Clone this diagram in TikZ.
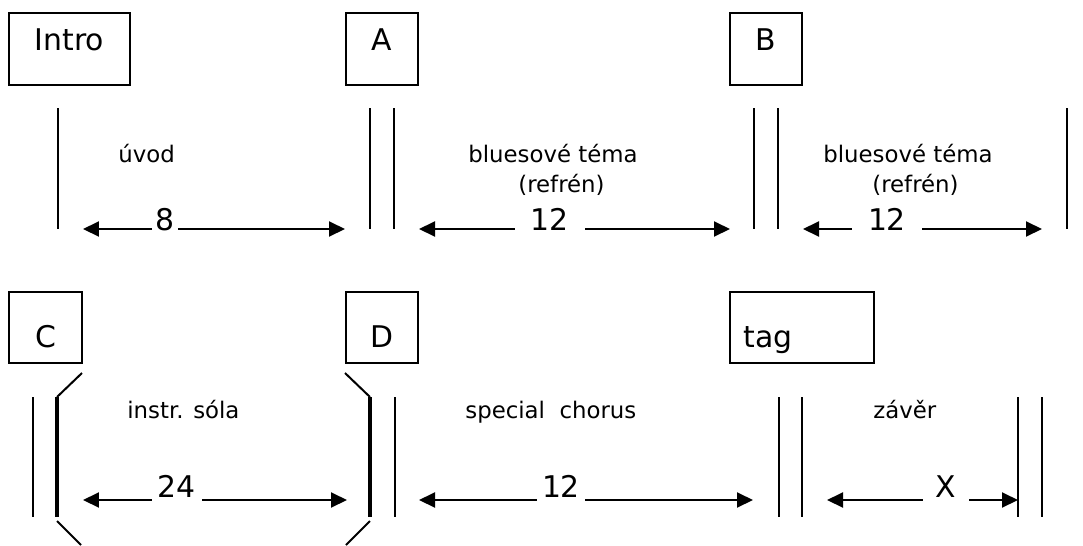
\documentclass[tikz,border=0pt]{standalone}
\usepackage{fontspec}
\setmainfont{DejaVu Sans}
\usetikzlibrary{arrows.meta}

\tikzset{
  part/.style={draw, line width=.04cm, inner sep=0pt, font=\fontsize{17}{20}\selectfont},
  toppart/.style={part, text height=.74cm, text depth=.70cm},
  lowpart/.style={part, text height=1.10cm, text depth=.32cm},
  txt/.style={anchor=base west, inner sep=0pt, font=\fontsize{13}{15}\selectfont},
  len/.style={anchor=base, inner ysep=0pt, font=\fontsize{17}{20}\selectfont},
  arr/.style={line width=.04cm, -{Triangle[length=.32cm,width=.3cm]}},
  bar/.style={line width=.04cm},
  thickbar/.style={line width=.08cm}
}

\begin{document}
\begin{tikzpicture}[x=0.02cm, y=-0.02cm]
    \useasboundingbox (0,0) rectangle (1083,545);
    %section boxes
    \node[toppart, minimum width=2.42cm] (intro) at (69.5,49) {Intro};
    \node[toppart, minimum width=1.44cm] (A) at (382,49) {A};
    \node[toppart, minimum width=1.44cm] (B) at (766,49) {B};
    \node[lowpart, minimum width=1.46cm] (C) at (45.5,327.5) {C};
    \node[lowpart, minimum width=1.44cm] (D) at (382,327.5) {D};
    \node[lowpart, minimum width=2.88cm, text width=2.34cm, inner xsep=.27cm, align=left] (tag) at (802,327.5) {tag};

    %bar lines, first row
    \draw[bar] (58,108) -- (58,229);
    \draw[bar] (370,108) -- (370,229);
    \draw[bar] (394,108) -- (394,229);
    \draw[bar] (754,108) -- (754,229);
    \draw[bar] (778,108) -- (778,229);
    \draw[bar] (1067,108) -- (1067,229);
    %bar lines, second row
    \draw[bar] (33,397) -- (33,517);
    \draw[thickbar] (57,397) -- (57,517);
    \draw[thickbar] (370,397) -- (370,517);
    \draw[bar] (395,397) -- (395,517);
    \draw[bar] (779,397) -- (779,517);
    \draw[bar] (802,397) -- (802,517);
    \draw[bar] (1018,397) -- (1018,517);
    \draw[bar] (1042,397) -- (1042,517);
    %repeat brackets round the solos
    \draw[bar] (82,373) -- (57,397);
    \draw[bar] (57,521) -- (81,545);
    \draw[bar] (345,373) -- (370,397);
    \draw[bar] (370,521) -- (346,545);

    %section names
    \node[txt] (uvod) at (118,162) {úvod};
    \node[txt] (temaA) at (468,162) {bluesové téma};
    \node[txt] (refA) at (518,192) {(refrén)};
    \node[txt] (temaB) at (823,162) {bluesové téma};
    \node[txt] (refB) at (872,192) {(refrén)};
    \node[txt] (sola) at (127,418) {instr. sóla};
    \node[txt] (special) at (465,418) {special\ \ chorus};
    \node[txt] (zaver) at (873,418) {závěr};

    %arrow ends
    \coordinate (l1) at (83,229);  \coordinate (r1) at (345,229);
    \coordinate (l2) at (419,229); \coordinate (r2) at (730,229);
    \coordinate (l3) at (803,229); \coordinate (r3) at (1042,229);
    \coordinate (l4) at (83,500);  \coordinate (r4) at (347,500);
    \coordinate (l5) at (419,500); \coordinate (r5) at (753,500);
    \coordinate (l6) at (827,500); \coordinate (r6) at (1018,500);

    %bar counts
    \node[len, inner xsep=.07cm] (n1) at (165,230) {8};
    \node[len, inner xsep=.32cm] (n2) at (550,230) {12};
    \node[len, inner xsep=.32cm] (n3) at (887,230) {12};
    \node[len, inner xsep=.12cm] (n4) at (177,497) {24};
    \node[len, inner xsep=.10cm] (n5) at (561,497) {12};
    \node[len, inner xsep=.25cm] (n6) at (946,497) {X};
    \foreach \i in {1,...,6} {
        \draw[arr] (n\i.west |- l\i) -- (l\i);
        \draw[arr] (n\i.east |- r\i) -- (r\i);
    }
\end{tikzpicture}
\end{document}
